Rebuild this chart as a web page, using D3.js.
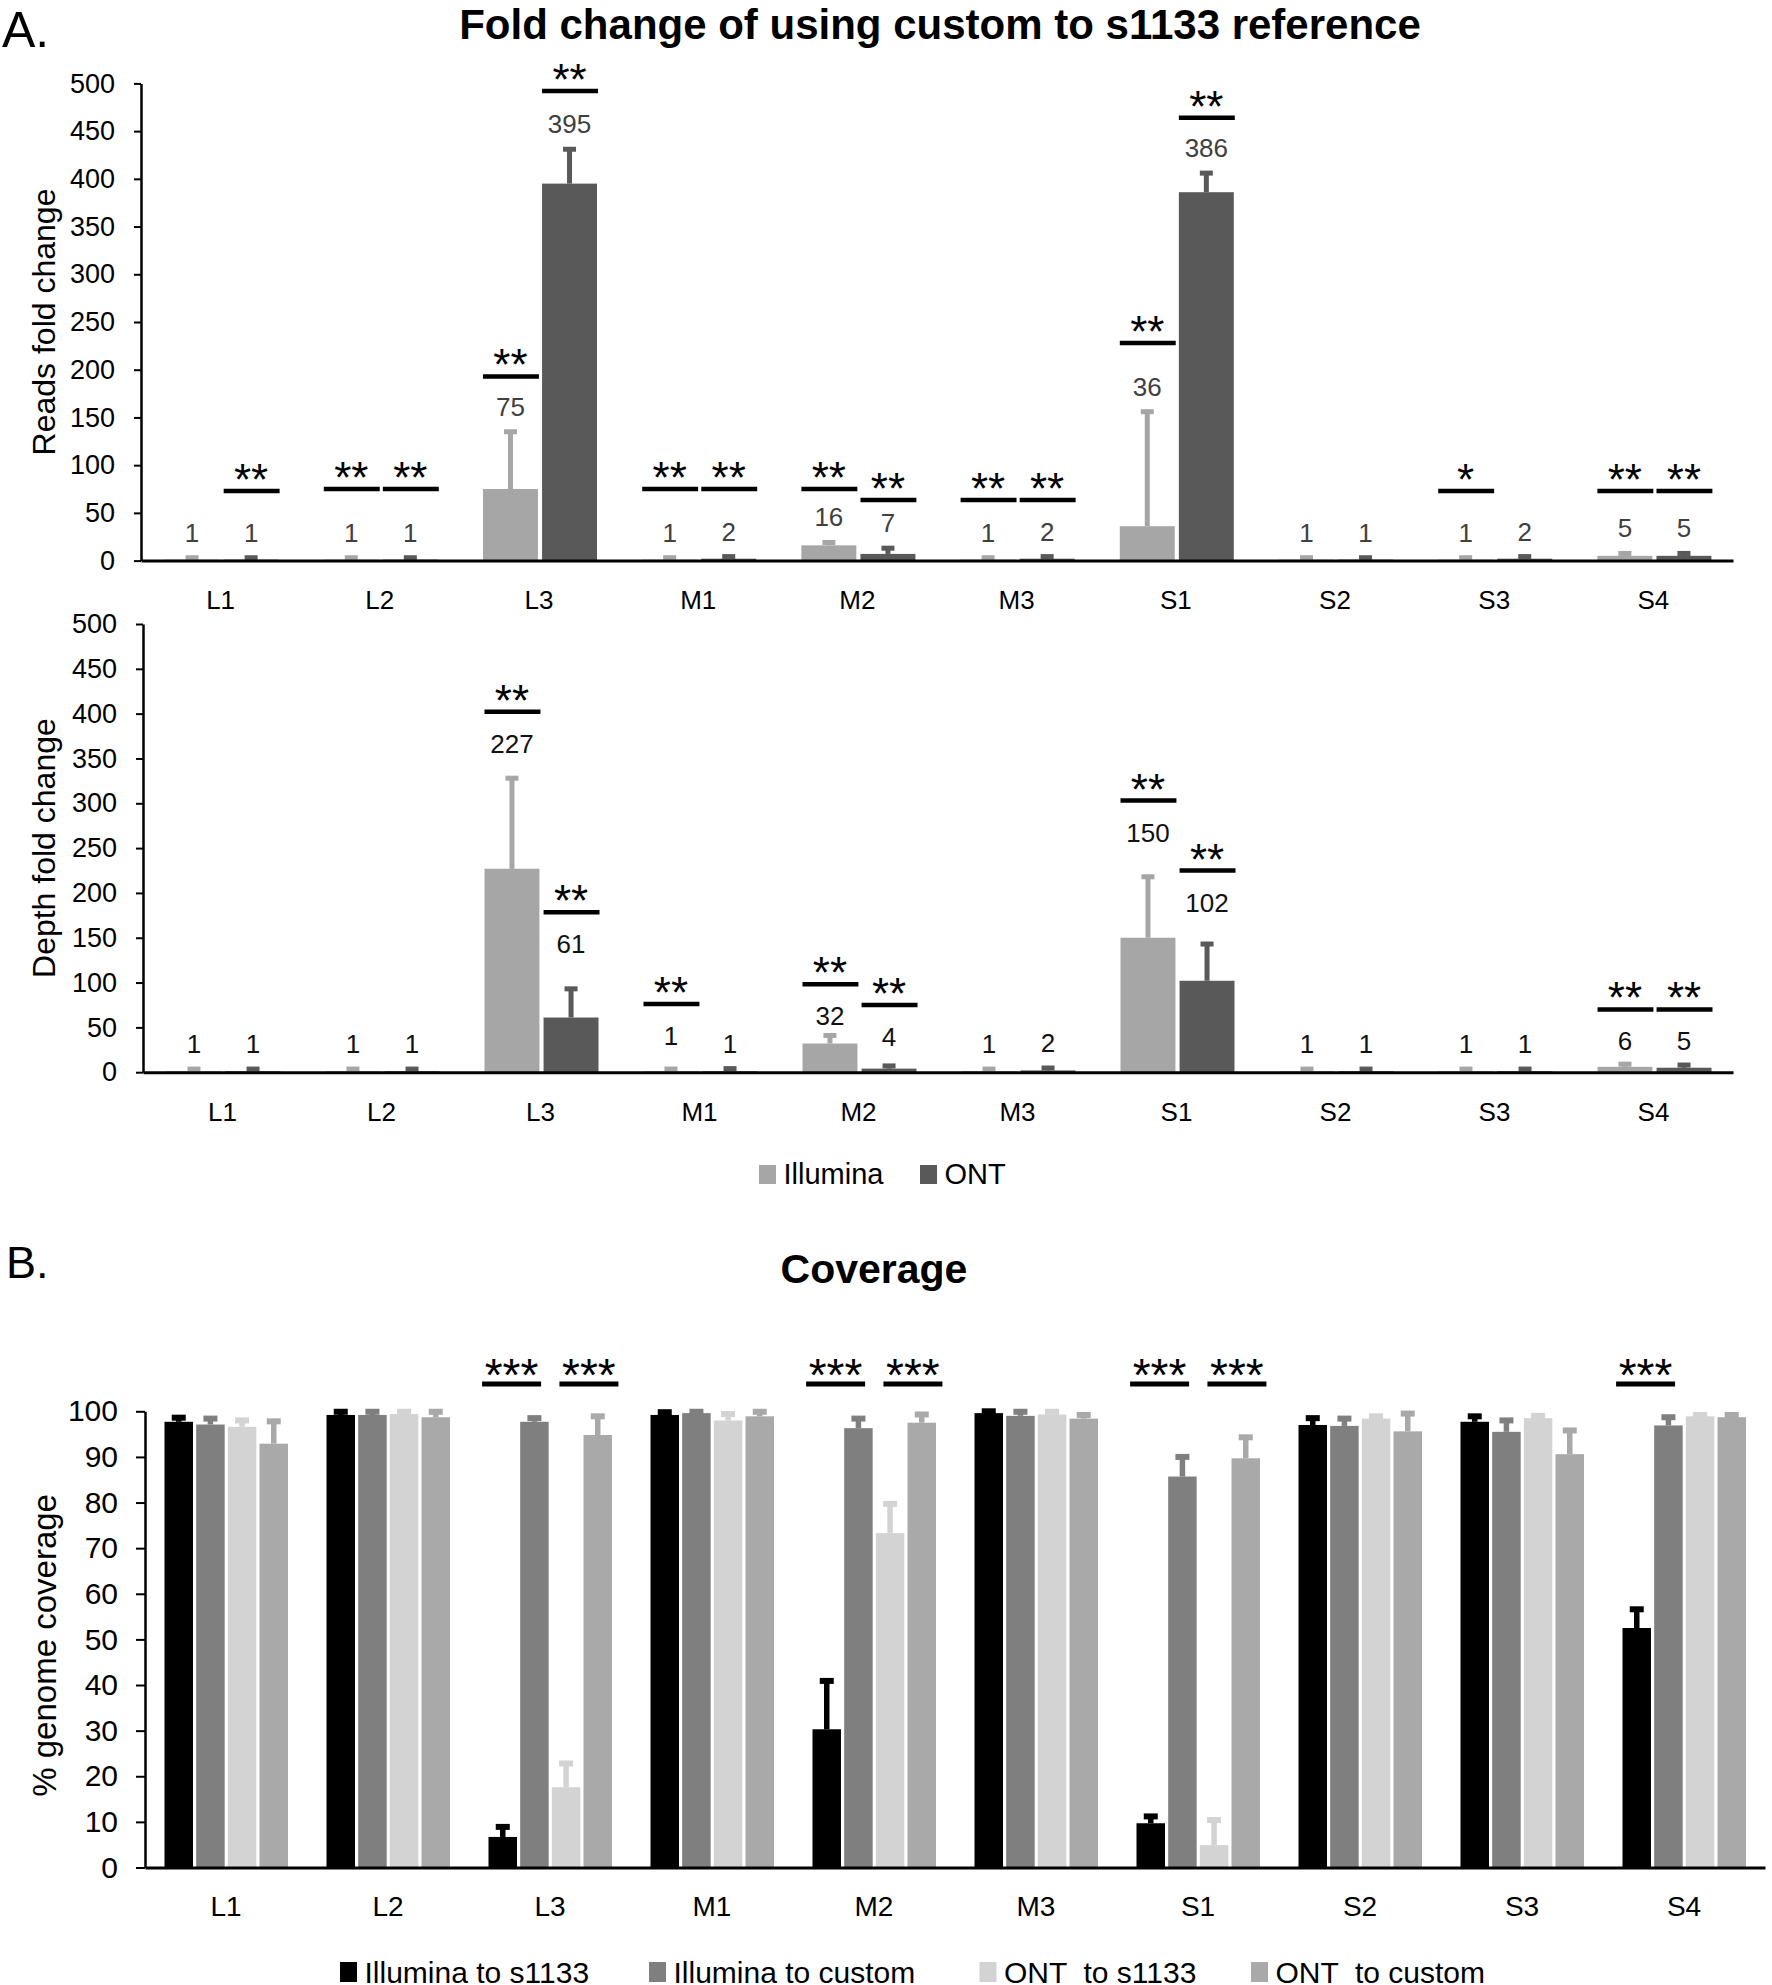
<!DOCTYPE html>
<html>
<head>
<meta charset="utf-8">
<script src="https://cdn.jsdelivr.net/npm/d3@7"></script>
<style>
  body { margin: 0; background: #fff; }
  svg { font-family: 'Liberation Sans', Arial, sans-serif; }
</style>
</head>
<body>
<script>
const categories = ['L1', 'L2', 'L3', 'M1', 'M2', 'M3', 'S1', 'S2', 'S3', 'S4'];
const foldSeries = ['Illumina', 'ONT'];

// reads fold change (panel A, top)
const readsIllumina = [1, 1, 75, 1, 16, 1, 36, 1, 1, 5];
const readsIlluminaErr = [2, 2, 60, 2, 3, 2, 120, 2, 2, 2.5];
const readsOnt = [1, 1, 395, 2, 7, 2, 386, 1, 2, 5];
const readsOntErr = [2, 2, 36, 2.2, 6, 2.2, 20, 2, 2.2, 2.5];
// significance bars: category, series, level (in fold change units), stars
const readsSig = [
  ['L1', 'ONT', 73, '**'], ['L2', 'Illumina', 75, '**'], ['L2', 'ONT', 75, '**'],
  ['L3', 'Illumina', 193, '**'], ['L3', 'ONT', 492, '**'],
  ['M1', 'Illumina', 75, '**'], ['M1', 'ONT', 75, '**'],
  ['M2', 'Illumina', 75, '**'], ['M2', 'ONT', 63.5, '**'],
  ['M3', 'Illumina', 63.5, '**'], ['M3', 'ONT', 63.5, '**'],
  ['S1', 'Illumina', 228, '**'], ['S1', 'ONT', 464, '**'],
  ['S3', 'Illumina', 73, '*'], ['S4', 'Illumina', 73, '**'], ['S4', 'ONT', 73, '**']
];

// depth fold change (panel A, bottom)
const depthIllumina = [1, 1, 227, 1, 32, 1, 150, 1, 1, 6];
const depthIlluminaErr = [2.5, 2.5, 101, 2.5, 9, 2.5, 68, 2.5, 2.5, 3];
const depthOnt = [1, 1, 61, 1, 4, 2, 102, 1, 1, 5];
const depthOntErr = [2.5, 2.5, 32, 3, 3, 2.7, 41, 2.5, 2.5, 3];
const depthSig = [
  ['L3', 'Illumina', 402, '**'], ['L3', 'ONT', 178.5, '**'],
  ['M1', 'Illumina', 76, '**'],
  ['M2', 'Illumina', 98, '**'], ['M2', 'ONT', 75, '**'],
  ['S1', 'Illumina', 303, '**'], ['S1', 'ONT', 225, '**'],
  ['S4', 'Illumina', 70, '**'], ['S4', 'ONT', 70, '**']
];

// coverage (panel B)
const covSeries = ['Illumina to s1133', 'Illumina to custom', 'ONT  to s1133', 'ONT  to custom'];
const covIllS1133 = [97.7, 99.2, 6.7, 99.2, 30.3, 99.6, 9.7, 97.0, 97.7, 52.5];
const covIllS1133Err = [0.9, 0.7, 2.2, 0.6, 10.6, 0.4, 1.5, 1.5, 1.2, 4.1];
const covIllCustom = [97.1, 99.2, 97.7, 99.6, 96.3, 99.0, 85.7, 96.8, 95.5, 96.9];
const covIllCustomErr = [1.3, 0.7, 0.8, 0.3, 2.1, 0.9, 4.3, 1.6, 2.5, 1.8];
const covOntS1133 = [96.6, 99.4, 17.6, 98.0, 73.3, 99.3, 4.9, 98.4, 98.5, 98.9];
const covOntS1133Err = [1.4, 0.5, 5.2, 1.4, 6.4, 0.6, 5.5, 0.5, 0.5, 0.3];
const covOntCustom = [92.9, 98.7, 94.8, 98.9, 97.5, 98.4, 89.7, 95.6, 90.6, 98.7];
const covOntCustomErr = [4.9, 1.2, 4.1, 1.0, 1.8, 0.8, 4.6, 3.9, 5.2, 0.5];
// category, pair (0 = Illumina pair, 1 = ONT pair), level, stars
const covSig = [
  ['L3', 0, 106, '***'], ['L3', 1, 106, '***'],
  ['M2', 0, 106, '***'], ['M2', 1, 106, '***'],
  ['S1', 0, 106, '***'], ['S1', 1, 106, '***'],
  ['S4', 0, 106, '***']
];

const foldTicks = d3.range(0, 501, 50);
const covTicks = d3.range(0, 101, 10);

const foldColors = {'Illumina': '#a6a6a6', 'ONT': '#595959'};
const covColors = ['#000000', '#7f7f7f', '#d3d3d3', '#a9a9a9'];

const W = 1772, H = 1985;
const svg = d3.select('body').append('svg')
    .attr('width', W)
    .attr('height', H);

// panel letters and titles
svg.append('text').attr('x', 2).attr('y', 47).style('font-size', '50px').text('A.');
svg.append('text').attr('x', 940).attr('y', 39).attr('text-anchor', 'middle')
    .style('font-size', '42px').style('font-weight', 'bold')
    .text('Fold change of using custom to s1133 reference');
svg.append('text').attr('x', 6).attr('y', 1278).style('font-size', '45px').text('B.');
svg.append('text').attr('x', 874).attr('y', 1283).attr('text-anchor', 'middle')
    .style('font-size', '41px').style('font-weight', 'bold')
    .text('Coverage');

function styleAxis(g, fontSize, domainW) {
    g.select('.domain').attr('stroke', '#000').attr('stroke-width', domainW);
    g.selectAll('.tick line').attr('stroke', '#000').attr('stroke-width', 2);
    g.selectAll('.tick text').attr('fill', '#000').style('font-size', fontSize + 'px')
        .style('font-family', "'Liberation Sans', Arial, sans-serif");
}

function drawFold(o) {
    const g = svg.append('g');
    const x = d3.scaleBand().domain(categories).range([o.x0, o.x1]);
    const xs = d3.scaleBand().domain(foldSeries).range([-56, 58]).paddingInner(0.07);
    const y = d3.scaleLinear().domain([0, 500]).range([o.yBottom, o.yTop]);
    const cx = (c, s) => x(c) + x.bandwidth() / 2 + xs(s) + xs.bandwidth() / 2;

    const rows = [];
    foldSeries.forEach((s, k) => {
        categories.forEach((c, i) => {
            const sig = o.sig.find(d => d[0] === c && d[1] === s);
            rows.push({c: c, s: s, v: o.values[k][i], e: o.errors[k][i], sig: sig ? sig[2] : null});
        });
    });

    g.selectAll('rect.bar').data(rows).enter().append('rect')
        .attr('class', 'bar')
        .attr('x', d => cx(d.c, d.s) - xs.bandwidth() / 2)
        .attr('width', xs.bandwidth())
        .attr('y', d => y(d.v))
        .attr('height', d => y(0) - y(d.v))
        .attr('fill', d => foldColors[d.s]);

    // upper error bars
    g.selectAll('rect.stem').data(rows).enter().append('rect')
        .attr('x', d => cx(d.c, d.s) - 2.5)
        .attr('width', 5)
        .attr('y', d => y(d.v + d.e))
        .attr('height', d => y(d.v) - y(d.v + d.e))
        .attr('fill', d => foldColors[d.s]);
    g.selectAll('rect.cap').data(rows).enter().append('rect')
        .attr('x', d => cx(d.c, d.s) - 6.5)
        .attr('width', 13)
        .attr('y', d => y(d.v + d.e) - 2.5)
        .attr('height', 5)
        .attr('fill', d => foldColors[d.s]);

    // value labels: just under the significance bar if there is one, else above the error bar
    g.selectAll('text.val').data(rows).enter().append('text')
        .attr('x', d => cx(d.c, d.s))
        .attr('y', d => (o.labelUnderSig && d.sig !== null)
            ? y(d.sig) + 41
            : y(d.v + d.e) - 16)
        .attr('text-anchor', 'middle')
        .attr('fill', o.labelColor)
        .style('font-size', '26px')
        .text(d => d.v);

    // significance marks
    g.selectAll('line.sig').data(o.sig).enter().append('line')
        .attr('x1', d => cx(d[0], d[1]) - xs.bandwidth() / 2)
        .attr('x2', d => cx(d[0], d[1]) + xs.bandwidth() / 2 + 1)
        .attr('y1', d => y(d[2]))
        .attr('y2', d => y(d[2]))
        .attr('stroke', '#000')
        .attr('stroke-width', 4.5);
    g.selectAll('text.star').data(o.sig).enter().append('text')
        .attr('x', d => cx(d[0], d[1]))
        .attr('y', d => y(d[2]) + 4)
        .attr('text-anchor', 'middle')
        .style('font-size', '44px')
        .text(d => d[3]);

    const ya = g.append('g').attr('transform', `translate(${o.x0},0)`)
        .call(d3.axisLeft(y).tickValues(foldTicks).tickSize(7).tickPadding(19).tickSizeOuter(0));
    styleAxis(ya, 27, 2.5);
    const xa = g.append('g').attr('transform', `translate(0,${o.yBottom})`)
        .call(d3.axisBottom(x).tickSize(0).tickPadding(30).tickSizeOuter(0));
    styleAxis(xa, 26, 3);

    g.append('text')
        .attr('transform', `translate(44,${(o.yTop + o.yBottom) / 2}) rotate(-90)`)
        .attr('text-anchor', 'middle')
        .attr('dy', '0.35em')
        .style('font-size', '32px')
        .text(o.title);
}

drawFold({
    x0: 141, x1: 1733, yTop: 83.4, yBottom: 560.6,
    values: [readsIllumina, readsOnt], errors: [readsIlluminaErr, readsOntErr],
    sig: readsSig, title: 'Reads fold change', labelColor: '#404040', labelUnderSig: false
});
drawFold({
    x0: 143, x1: 1733, yTop: 624, yBottom: 1072.2,
    values: [depthIllumina, depthOnt], errors: [depthIlluminaErr, depthOntErr],
    sig: depthSig, title: 'Depth fold change', labelColor: '#111', labelUnderSig: true
});

// fold change legend
const foldLegendX = [759, 920];
const lg = svg.append('g');
foldSeries.forEach((s, k) => {
    lg.append('rect').attr('x', foldLegendX[k]).attr('y', 1165).attr('width', 17).attr('height', 19)
        .attr('fill', foldColors[s]);
    lg.append('text').attr('x', foldLegendX[k] + 24.5).attr('y', 1184)
        .style('font-size', '29px').text(s);
});

// coverage chart
(function drawCoverage() {
    const g = svg.append('g');
    const x0 = 145, x1 = 1765, yTop = 1411.3, yBottom = 1867.5;
    const x = d3.scaleBand().domain(categories).range([x0, x1]);
    const xs = d3.scaleBand().domain(covSeries).range([-61.5, 62]).paddingInner(0.1);
    const y = d3.scaleLinear().domain([0, 100]).range([yBottom, yTop]);
    const cx = (c, s) => x(c) + x.bandwidth() / 2 + xs(s) + xs.bandwidth() / 2;

    const vals = [covIllS1133, covIllCustom, covOntS1133, covOntCustom];
    const errs = [covIllS1133Err, covIllCustomErr, covOntS1133Err, covOntCustomErr];
    const rows = [];
    covSeries.forEach((s, k) => {
        categories.forEach((c, i) => {
            rows.push({c: c, s: s, k: k, v: vals[k][i], e: errs[k][i]});
        });
    });

    g.selectAll('rect.bar').data(rows).enter().append('rect')
        .attr('x', d => cx(d.c, d.s) - xs.bandwidth() / 2)
        .attr('width', xs.bandwidth())
        .attr('y', d => y(d.v))
        .attr('height', d => y(0) - y(d.v))
        .attr('fill', d => covColors[d.k]);
    g.selectAll('rect.stem').data(rows).enter().append('rect')
        .attr('x', d => cx(d.c, d.s) - 2.75)
        .attr('width', 5.5)
        .attr('y', d => y(d.v + d.e))
        .attr('height', d => y(d.v) - y(d.v + d.e))
        .attr('fill', d => covColors[d.k]);
    g.selectAll('rect.cap').data(rows).enter().append('rect')
        .attr('x', d => cx(d.c, d.s) - 7)
        .attr('width', 14)
        .attr('y', d => y(d.v + d.e) - 3)
        .attr('height', 6)
        .attr('fill', d => covColors[d.k]);

    const pairCenter = d => {
        const a = cx(d[0], covSeries[d[1] * 2]), b = cx(d[0], covSeries[d[1] * 2 + 1]);
        return (a + b) / 2 + (d[1] === 0 ? -7 : 7);
    };
    g.selectAll('line.sig').data(covSig).enter().append('line')
        .attr('x1', d => pairCenter(d) - 29.5)
        .attr('x2', d => pairCenter(d) + 29.5)
        .attr('y1', d => y(d[2]))
        .attr('y2', d => y(d[2]))
        .attr('stroke', '#000')
        .attr('stroke-width', 5);
    g.selectAll('text.star').data(covSig).enter().append('text')
        .attr('x', d => pairCenter(d))
        .attr('y', d => y(d[2]) + 7)
        .attr('text-anchor', 'middle')
        .style('font-size', '46px')
        .text(d => d[3]);

    const ya = g.append('g').attr('transform', `translate(${x0},0)`)
        .call(d3.axisLeft(y).tickValues(covTicks).tickSize(9).tickPadding(18).tickSizeOuter(0));
    styleAxis(ya, 30, 2.5);
    const xa = g.append('g').attr('transform', `translate(0,${yBottom})`)
        .call(d3.axisBottom(x).tickSize(0).tickPadding(29).tickSizeOuter(0));
    styleAxis(xa, 28, 3);

    g.append('text')
        .attr('transform', `translate(44,${(yTop + yBottom) / 2 + 6}) rotate(-90)`)
        .attr('text-anchor', 'middle')
        .attr('dy', '0.35em')
        .style('font-size', '33px')
        .text('% genome coverage');

    const legendX = [340, 649, 979.5, 1251];
    covSeries.forEach((s, k) => {
        g.append('rect').attr('x', legendX[k]).attr('y', 1962).attr('width', 17).attr('height', 20)
            .attr('fill', covColors[k]);
        g.append('text').attr('x', legendX[k] + 24.5).attr('y', 1983)
            .style('font-size', '30px').style('white-space', 'pre')
            .attr('xml:space', 'preserve')
            .text(s);
    });
})();
</script>
</body>
</html>
